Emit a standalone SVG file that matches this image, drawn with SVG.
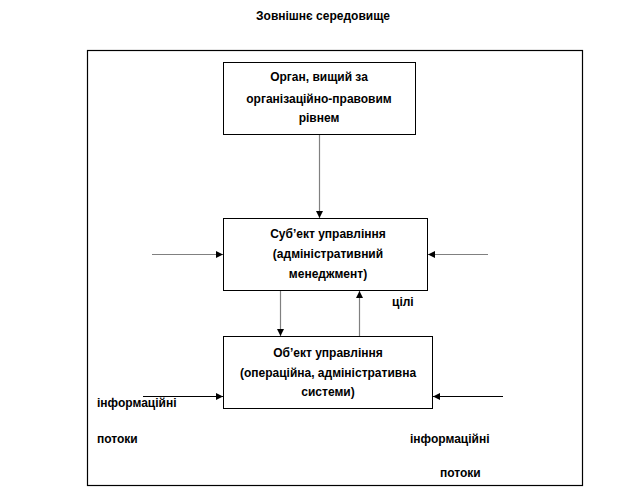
<svg xmlns="http://www.w3.org/2000/svg" width="640" height="504" viewBox="0 0 640 504">
<style>
text{font-family:"Liberation Sans",Arial,sans-serif;font-size:12px;font-weight:bold;fill:#000}
.c{text-anchor:middle}
.box{fill:#fff;stroke:#000;stroke-width:1}
.ln{stroke:#808080;stroke-width:1.2;fill:none;marker-end:url(#ah)}
.lb{stroke:#000;stroke-width:1;fill:none;marker-end:url(#ah)}
</style>
<defs>
<marker id="ah" viewBox="0 0 10 10" refX="10" refY="5" markerWidth="7" markerHeight="7" markerUnits="userSpaceOnUse" orient="auto">
<path d="M0,0 L10,5 L0,10 Z" fill="#000"/>
</marker>
</defs>
<rect width="640" height="504" fill="#fff"/>
<g id="env">
<text class="c" x="323" y="20">Зовнішнє середовище</text>
<rect x="87.5" y="50.5" width="495" height="435" fill="none" stroke="#000" stroke-width="1.2"/>
</g>
<g id="organ">
<rect class="box" x="223.5" y="62.5" width="192" height="72"/>
<text class="c" x="319" y="81">Орган, вищий за</text>
<text class="c" x="319" y="103">організаційно-правовим</text>
<text class="c" x="319" y="122">рівнем</text>
</g>
<g id="subject">
<rect class="box" x="223.5" y="218.5" width="204" height="72"/>
<text class="c" x="328" y="238">Суб’ект управління</text>
<text class="c" x="328" y="258">(адміністративний</text>
<text class="c" x="328" y="278">менеджмент)</text>
</g>
<g id="object">
<rect class="box" x="223.5" y="336.5" width="209" height="72"/>
<text class="c" x="328" y="357">Об’ект управління</text>
<text class="c" x="328" y="377">(операційна, адміністративна</text>
<text class="c" x="328" y="396">системи)</text>
</g>
<g id="connectors">
<line class="ln" x1="319.5" y1="135" x2="319.5" y2="218"/>
<line class="ln" x1="152" y1="254.5" x2="223" y2="254.5"/>
<line class="ln" x1="488" y1="254.5" x2="428" y2="254.5"/>
<line class="ln" x1="280.5" y1="291" x2="280.5" y2="336"/>
<line class="ln" x1="359.5" y1="336" x2="359.5" y2="291"/>
<line class="lb" x1="143" y1="396.5" x2="223" y2="396.5"/>
<line class="lb" x1="503" y1="396.5" x2="433" y2="396.5"/>
</g>
<g id="labels">
<text x="392" y="306">цілі</text>
<text x="97" y="407">інформаційні</text>
<text x="97" y="443">потоки</text>
<text x="410" y="443">інформаційні</text>
<text x="440" y="477">потоки</text>
</g>
</svg>
